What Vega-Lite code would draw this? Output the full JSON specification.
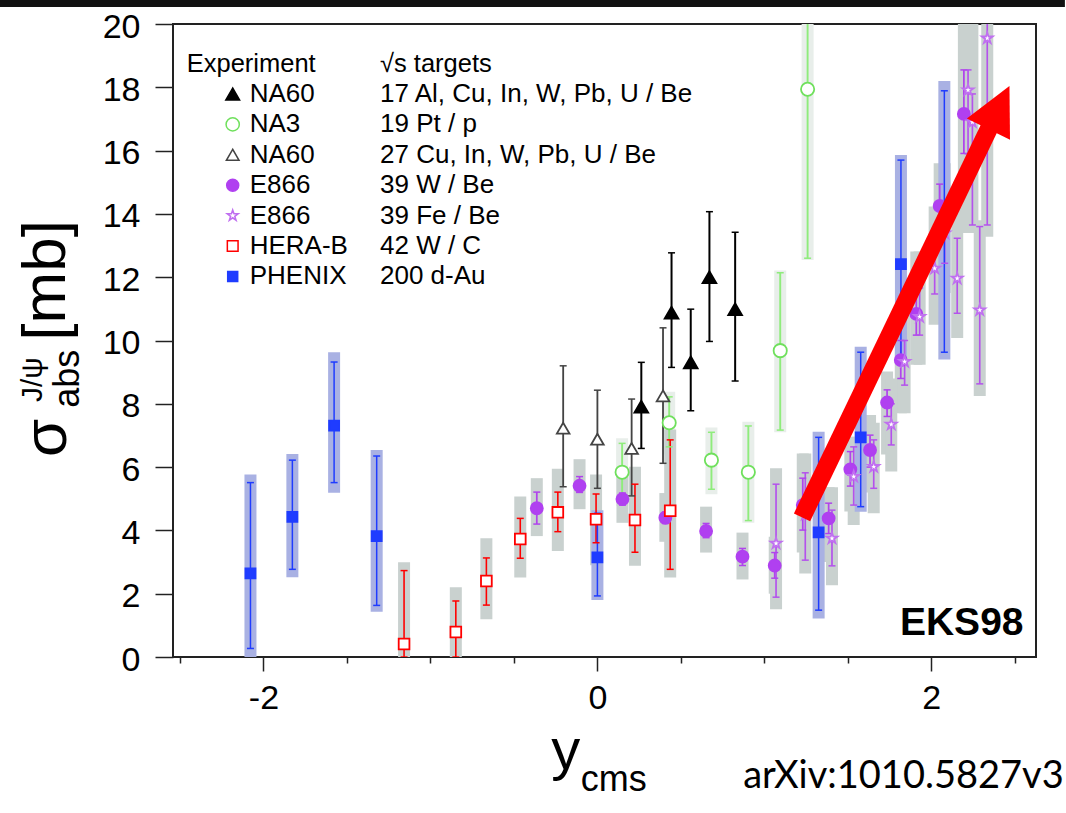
{
  "$schema": "https://vega.github.io/schema/vega-lite/v6.json",
  "width": 863,
  "height": 633,
  "autosize": {"type": "none"},
  "padding": {"left": 173, "top": 24, "right": 30, "bottom": 156},
  "background": "white",
  "config": {
    "view": {"stroke": "#222222", "strokeWidth": 2},
    "font": "Liberation Sans",
    "axis": {"labelFont": "Liberation Sans", "labelColor": "#000000", "labelFontSize": 34, "tickColor": "#222222", "tickWidth": 1.5, "domain": false, "grid": false, "title": null, "labelOverlap": false, "labelFlush": false},
    "legend": {"labelFont": "Liberation Sans", "labelFontSize": 26, "labelColor": "#000000", "titleFont": "Liberation Sans", "titleFontSize": 25.5, "titleFontWeight": "normal", "titleColor": "#000000", "labelLimit": 0, "titleLimit": 0, "rowPadding": 4.4, "titlePadding": 3.5, "padding": 0, "orient": "none", "symbolStrokeWidth": 1.5}
  },
  "datasets": {
    "pts": [
      {"s": "NA3|19 Pt / p", "x": 0.148, "y": 5.84, "lo": 4.99, "hi": 6.75, "blo": 4.77, "bhi": 6.91},
      {"s": "NA3|19 Pt / p", "x": 0.430, "y": 7.40, "lo": 6.64, "hi": 8.22, "blo": 6.40, "bhi": 8.38},
      {"s": "NA3|19 Pt / p", "x": 0.683, "y": 6.22, "lo": 5.30, "hi": 7.10, "blo": 5.14, "bhi": 7.25},
      {"s": "NA3|19 Pt / p", "x": 0.904, "y": 5.84, "lo": 4.31, "hi": 7.30, "blo": 4.24, "bhi": 7.43},
      {"s": "NA3|19 Pt / p", "x": 1.095, "y": 9.68, "lo": 7.17, "hi": 12.14, "blo": 7.10, "bhi": 12.21},
      {"s": "NA3|19 Pt / p", "x": 1.259, "y": 17.94, "lo": 12.60, "hi": 23.0, "blo": 12.54, "bhi": 23.5},
      {"s": "E866|39 W / Be", "x": -0.363, "y": 4.70, "lo": 4.20, "hi": 5.21, "blo": 3.82, "bhi": 5.65},
      {"s": "E866|39 W / Be", "x": -0.107, "y": 5.41, "lo": 5.20, "hi": 5.70, "blo": 4.67, "bhi": 6.25},
      {"s": "E866|39 W / Be", "x": 0.150, "y": 4.99, "lo": 4.80, "hi": 5.18, "blo": 4.24, "bhi": 5.75},
      {"s": "E866|39 W / Be", "x": 0.407, "y": 4.40, "lo": 4.22, "hi": 4.58, "blo": 3.64, "bhi": 5.18},
      {"s": "E866|39 W / Be", "x": 0.651, "y": 3.98, "lo": 3.77, "hi": 4.22, "blo": 3.30, "bhi": 4.75},
      {"s": "E866|39 W / Be", "x": 0.869, "y": 3.17, "lo": 2.89, "hi": 3.43, "blo": 2.45, "bhi": 3.93},
      {"s": "E866|39 W / Be", "x": 1.062, "y": 2.89, "lo": 2.49, "hi": 3.30, "blo": 2.00, "bhi": 3.80},
      {"s": "E866|39 W / Be", "x": 1.230, "y": 4.80, "lo": 4.01, "hi": 5.65, "blo": 3.30, "bhi": 6.43},
      {"s": "E866|39 W / Be", "x": 1.385, "y": 4.38, "lo": 3.90, "hi": 4.86, "blo": 3.00, "bhi": 5.36},
      {"s": "E866|39 W / Be", "x": 1.515, "y": 5.93, "lo": 5.40, "hi": 6.49, "blo": 4.60, "bhi": 6.96},
      {"s": "E866|39 W / Be", "x": 1.633, "y": 6.54, "lo": 6.00, "hi": 7.01, "blo": 5.20, "bhi": 7.65},
      {"s": "E866|39 W / Be", "x": 1.735, "y": 8.04, "lo": 7.60, "hi": 8.44, "blo": 6.40, "bhi": 9.02},
      {"s": "E866|39 W / Be", "x": 1.817, "y": 9.38, "lo": 8.80, "hi": 10.00, "blo": 7.70, "bhi": 10.60},
      {"s": "E866|39 W / Be", "x": 1.910, "y": 10.84, "lo": 10.17, "hi": 11.66, "blo": 9.23, "bhi": 12.81},
      {"s": "E866|39 W / Be", "x": 2.050, "y": 14.25, "lo": 13.60, "hi": 14.94, "blo": 12.00, "bhi": 15.60},
      {"s": "E866|39 W / Be", "x": 2.195, "y": 17.16, "lo": 15.91, "hi": 18.55, "blo": 13.40, "bhi": 21.0},
      {"s": "E866|39 Fe / Be", "x": 1.070, "y": 3.59, "lo": 1.89, "hi": 5.46, "blo": 1.51, "bhi": 5.96},
      {"s": "E866|39 Fe / Be", "x": 1.245, "y": 4.50, "lo": 3.06, "hi": 5.82, "blo": 2.64, "bhi": 6.43},
      {"s": "E866|39 Fe / Be", "x": 1.405, "y": 3.75, "lo": 2.88, "hi": 4.64, "blo": 2.27, "bhi": 5.36},
      {"s": "E866|39 Fe / Be", "x": 1.535, "y": 5.70, "lo": 4.80, "hi": 6.64, "blo": 4.17, "bhi": 6.96},
      {"s": "E866|39 Fe / Be", "x": 1.655, "y": 6.01, "lo": 5.33, "hi": 6.86, "blo": 4.54, "bhi": 7.40},
      {"s": "E866|39 Fe / Be", "x": 1.760, "y": 7.35, "lo": 6.70, "hi": 8.00, "blo": 5.86, "bhi": 8.80},
      {"s": "E866|39 Fe / Be", "x": 1.840, "y": 9.33, "lo": 8.59, "hi": 10.00, "blo": 7.70, "bhi": 10.80},
      {"s": "E866|39 Fe / Be", "x": 1.930, "y": 10.75, "lo": 10.17, "hi": 11.66, "blo": 9.23, "bhi": 12.81},
      {"s": "E866|39 Fe / Be", "x": 2.020, "y": 12.28, "lo": 11.47, "hi": 12.86, "blo": 10.50, "bhi": 14.23},
      {"s": "E866|39 Fe / Be", "x": 2.080, "y": 13.39, "lo": 12.44, "hi": 14.12, "blo": 11.50, "bhi": 15.60},
      {"s": "E866|39 Fe / Be", "x": 2.155, "y": 11.96, "lo": 10.86, "hi": 13.23, "blo": 10.08, "bhi": 14.19},
      {"s": "E866|39 Fe / Be", "x": 2.220, "y": 17.91, "lo": 15.90, "hi": 18.55, "blo": 13.40, "bhi": 21.0},
      {"s": "E866|39 Fe / Be", "x": 2.246, "y": 16.90, "lo": 13.65, "hi": 17.79, "blo": 13.40, "bhi": 21.0},
      {"s": "E866|39 Fe / Be", "x": 2.290, "y": 10.96, "lo": 8.63, "hi": 13.60, "blo": 8.25, "bhi": 13.80},
      {"s": "E866|39 Fe / Be", "x": 2.335, "y": 19.55, "lo": 13.65, "hi": 23.0, "blo": 13.28, "bhi": 23.5},
      {"s": "HERA-B|42 W / C", "x": -1.158, "y": 0.41, "lo": 0.0, "hi": 2.73, "blo": 0.0, "bhi": 2.99},
      {"s": "HERA-B|42 W / C", "x": -0.848, "y": 0.79, "lo": 0.0, "hi": 1.77, "blo": 0.0, "bhi": 2.20},
      {"s": "HERA-B|42 W / C", "x": -0.665, "y": 2.40, "lo": 1.64, "hi": 3.13, "blo": 1.19, "bhi": 3.75},
      {"s": "HERA-B|42 W / C", "x": -0.462, "y": 3.73, "lo": 3.12, "hi": 4.38, "blo": 2.51, "bhi": 5.07},
      {"s": "HERA-B|42 W / C", "x": -0.237, "y": 4.57, "lo": 3.96, "hi": 5.21, "blo": 3.35, "bhi": 5.95},
      {"s": "HERA-B|42 W / C", "x": -0.008, "y": 4.35, "lo": 3.61, "hi": 5.15, "blo": 2.90, "bhi": 5.77},
      {"s": "HERA-B|42 W / C", "x": 0.225, "y": 4.33, "lo": 3.31, "hi": 5.46, "blo": 2.88, "bhi": 6.01},
      {"s": "HERA-B|42 W / C", "x": 0.436, "y": 4.62, "lo": 2.77, "hi": 6.86, "blo": 2.51, "bhi": 7.19},
      {"s": "NA60|17 Al, Cu, In, W, Pb, U / Be", "x": 0.263, "y": 7.91, "lo": 6.59, "hi": 9.31},
      {"s": "NA60|17 Al, Cu, In, W, Pb, U / Be", "x": 0.444, "y": 10.88, "lo": 9.15, "hi": 12.77},
      {"s": "NA60|17 Al, Cu, In, W, Pb, U / Be", "x": 0.559, "y": 9.31, "lo": 7.78, "hi": 10.99},
      {"s": "NA60|17 Al, Cu, In, W, Pb, U / Be", "x": 0.671, "y": 12.00, "lo": 9.97, "hi": 14.07},
      {"s": "NA60|17 Al, Cu, In, W, Pb, U / Be", "x": 0.825, "y": 10.99, "lo": 8.72, "hi": 13.42},
      {"s": "NA60|27 Cu, In, W, Pb, U / Be", "x": -0.205, "y": 7.23, "lo": 5.38, "hi": 9.20},
      {"s": "NA60|27 Cu, In, W, Pb, U / Be", "x": 0.000, "y": 6.88, "lo": 5.33, "hi": 8.43},
      {"s": "NA60|27 Cu, In, W, Pb, U / Be", "x": 0.205, "y": 6.59, "lo": 5.09, "hi": 8.15},
      {"s": "NA60|27 Cu, In, W, Pb, U / Be", "x": 0.393, "y": 8.25, "lo": 6.12, "hi": 10.40},
      {"s": "PHENIX|200 d-Au", "x": -2.078, "y": 2.64, "lo": 0.27, "hi": 5.51, "blo": 0.0, "bhi": 5.77},
      {"s": "PHENIX|200 d-Au", "x": -1.827, "y": 4.43, "lo": 2.77, "hi": 6.22, "blo": 2.52, "bhi": 6.41},
      {"s": "PHENIX|200 d-Au", "x": -1.577, "y": 7.31, "lo": 5.51, "hi": 9.32, "blo": 5.19, "bhi": 9.63},
      {"s": "PHENIX|200 d-Au", "x": -1.322, "y": 3.82, "lo": 1.63, "hi": 6.35, "blo": 1.43, "bhi": 6.54},
      {"s": "PHENIX|200 d-Au", "x": 0.000, "y": 3.15, "lo": 1.93, "hi": 4.54, "blo": 1.80, "bhi": 4.64},
      {"s": "PHENIX|200 d-Au", "x": 1.325, "y": 3.94, "lo": 1.48, "hi": 6.94, "blo": 1.22, "bhi": 7.12},
      {"s": "PHENIX|200 d-Au", "x": 1.577, "y": 6.94, "lo": 4.75, "hi": 9.63, "blo": 4.59, "bhi": 9.80},
      {"s": "PHENIX|200 d-Au", "x": 1.818, "y": 12.41, "lo": 9.49, "hi": 15.70, "blo": 9.30, "bhi": 15.86},
      {"s": "PHENIX|200 d-Au", "x": 2.078, "y": 13.80, "lo": 9.63, "hi": 17.89, "blo": 9.40, "bhi": 18.20}
    ]
  },
  "data": {"name": "pts"},
  "layer": [
    {
      "transform": [{"filter": "isValid(datum.blo)"}],
      "mark": {"type": "bar", "size": 12, "orient": "vertical", "clip": true},
      "encoding": {
        "x": {"field": "x", "type": "quantitative", "scale": {"domain": [-2.512, 2.597], "nice": false, "zero": false},
          "axis": {"values": [-2.5, -2, -1.5, -1, -0.5, 0, 0.5, 1, 1.5, 2, 2.5], "labelExpr": "datum.value % 2 === 0 ? toString(datum.value) : ''", "tickSize": {"condition": {"test": "datum.value % 2 === 0", "value": 14}, "value": 6}, "labelPadding": 10}},
        "y": {"field": "blo", "type": "quantitative", "scale": {"domain": [0, 20], "nice": false, "zero": false},
          "axis": {"values": [0, 0.5, 1, 1.5, 2, 2.5, 3, 3.5, 4, 4.5, 5, 5.5, 6, 6.5, 7, 7.5, 8, 8.5, 9, 9.5, 10, 10.5, 11, 11.5, 12, 12.5, 13, 13.5, 14, 14.5, 15, 15.5, 16, 16.5, 17, 17.5, 18, 18.5, 19, 19.5, 20], "labelExpr": "datum.value % 2 === 0 ? toString(datum.value) : ''", "tickSize": {"condition": {"test": "datum.value % 2 === 0", "value": 18}, "value": 9}, "labelPadding": 15, "labelOffset": 3}},
        "y2": {"field": "bhi"},
        "color": {"field": "s", "type": "nominal", "legend": null,
          "scale": {"domain": ["NA60|17 Al, Cu, In, W, Pb, U / Be", "NA3|19 Pt / p", "NA60|27 Cu, In, W, Pb, U / Be", "E866|39 W / Be", "E866|39 Fe / Be", "HERA-B|42 W / C", "PHENIX|200 d-Au"],
            "range": ["#ffffff", "#e8eeea", "#ffffff", "#c9d1cf", "#c9d1cf", "#c9d1cf", "#a9b1e3"]}}
      }
    },
    {
      "mark": {"type": "rule", "clip": true},
      "encoding": {
        "x": {"field": "x", "type": "quantitative", "scale": {"domain": [-2.512, 2.597], "nice": false, "zero": false}},
        "y": {"field": "lo", "type": "quantitative", "scale": {"domain": [0, 20], "nice": false, "zero": false}},
        "y2": {"field": "hi"},
        "color": {"field": "s", "type": "nominal",
          "scale": {"domain": ["NA60|17 Al, Cu, In, W, Pb, U / Be", "NA3|19 Pt / p", "NA60|27 Cu, In, W, Pb, U / Be", "E866|39 W / Be", "E866|39 Fe / Be", "HERA-B|42 W / C", "PHENIX|200 d-Au"],
            "range": ["#000000", "#8fec7c", "#444444", "#b044ec", "#b452ec", "#ff0000", "#1f3cff"]},
          "legend": {"title": "√s targets", "legendX": 207, "legendY": 28, "labelOffset": -26, "symbolOpacity": 0, "symbolSize": 0, "symbolStrokeWidth": 0, "labelExpr": "split(datum.label, '|')[1]"}},
        "strokeWidth": {"field": "s", "type": "nominal", "legend": null,
          "scale": {"domain": ["NA60|17 Al, Cu, In, W, Pb, U / Be", "NA3|19 Pt / p", "NA60|27 Cu, In, W, Pb, U / Be", "E866|39 W / Be", "E866|39 Fe / Be", "HERA-B|42 W / C", "PHENIX|200 d-Au"],
            "range": [2, 1.5, 1.3, 1.5, 1.5, 2, 2]}}
      }
    },
    {
      "mark": {"type": "tick", "orient": "horizontal", "size": 7, "thickness": 1.5, "opacity": 1, "clip": true},
      "encoding": {
        "x": {"field": "x", "type": "quantitative", "scale": {"domain": [-2.512, 2.597], "nice": false, "zero": false}},
        "y": {"field": "hi", "type": "quantitative", "scale": {"domain": [0, 20], "nice": false, "zero": false}},
        "color": {"field": "s", "type": "nominal", "legend": null,
          "scale": {"domain": ["NA60|17 Al, Cu, In, W, Pb, U / Be", "NA3|19 Pt / p", "NA60|27 Cu, In, W, Pb, U / Be", "E866|39 W / Be", "E866|39 Fe / Be", "HERA-B|42 W / C", "PHENIX|200 d-Au"],
            "range": ["#000000", "#8fec7c", "#444444", "#b044ec", "#b452ec", "#ff0000", "#1f3cff"]}}
      }
    },
    {
      "mark": {"type": "tick", "orient": "horizontal", "size": 7, "thickness": 1.5, "opacity": 1, "clip": true},
      "encoding": {
        "x": {"field": "x", "type": "quantitative", "scale": {"domain": [-2.512, 2.597], "nice": false, "zero": false}},
        "y": {"field": "lo", "type": "quantitative", "scale": {"domain": [0, 20], "nice": false, "zero": false}},
        "color": {"field": "s", "type": "nominal", "legend": null,
          "scale": {"domain": ["NA60|17 Al, Cu, In, W, Pb, U / Be", "NA3|19 Pt / p", "NA60|27 Cu, In, W, Pb, U / Be", "E866|39 W / Be", "E866|39 Fe / Be", "HERA-B|42 W / C", "PHENIX|200 d-Au"],
            "range": ["#000000", "#8fec7c", "#444444", "#b044ec", "#b452ec", "#ff0000", "#1f3cff"]}}
      }
    },
    {
      "mark": {"type": "point", "opacity": 1, "strokeWidth": 1.8, "clip": true},
      "encoding": {
        "x": {"field": "x", "type": "quantitative", "scale": {"domain": [-2.512, 2.597], "nice": false, "zero": false}},
        "y": {"field": "y", "type": "quantitative", "scale": {"domain": [0, 20], "nice": false, "zero": false}},
        "shape": {"field": "s", "type": "nominal",
          "scale": {"domain": ["NA60|17 Al, Cu, In, W, Pb, U / Be", "NA3|19 Pt / p", "NA60|27 Cu, In, W, Pb, U / Be", "E866|39 W / Be", "E866|39 Fe / Be", "HERA-B|42 W / C", "PHENIX|200 d-Au"],
            "range": ["triangle-up", "circle", "triangle-up", "circle", "M0,-1L0.225,-0.309L0.951,-0.309L0.363,0.118L0.588,0.809L0,0.382L-0.588,0.809L-0.363,0.118L-0.951,-0.309L-0.225,-0.309Z", "square", "square"]},
          "legend": {"title": "Experiment", "legendX": 13.7, "legendY": 28, "symbolOffset": 33, "labelOffset": 4, "labelExpr": "split(datum.label, '|')[0]"}},
        "fill": {"field": "s", "type": "nominal",
          "scale": {"domain": ["NA60|17 Al, Cu, In, W, Pb, U / Be", "NA3|19 Pt / p", "NA60|27 Cu, In, W, Pb, U / Be", "E866|39 W / Be", "E866|39 Fe / Be", "HERA-B|42 W / C", "PHENIX|200 d-Au"],
            "range": ["#000000", "#ffffff", "#ffffff", "#b040f0", "#ffffff", "#ffffff", "#1f3cff"]},
          "legend": {"title": "Experiment", "legendX": 13.7, "legendY": 28, "symbolOffset": 33, "labelOffset": 4, "labelExpr": "split(datum.label, '|')[0]"}},
        "stroke": {"field": "s", "type": "nominal",
          "scale": {"domain": ["NA60|17 Al, Cu, In, W, Pb, U / Be", "NA3|19 Pt / p", "NA60|27 Cu, In, W, Pb, U / Be", "E866|39 W / Be", "E866|39 Fe / Be", "HERA-B|42 W / C", "PHENIX|200 d-Au"],
            "range": ["#000000", "#6fe05c", "#444444", "#b040f0", "#c070f0", "#ff0000", "#1f3cff"]},
          "legend": {"title": "Experiment", "legendX": 13.7, "legendY": 28, "symbolOffset": 33, "labelOffset": 4, "labelExpr": "split(datum.label, '|')[0]"}},
        "size": {"field": "s", "type": "nominal",
          "scale": {"domain": ["NA60|17 Al, Cu, In, W, Pb, U / Be", "NA3|19 Pt / p", "NA60|27 Cu, In, W, Pb, U / Be", "E866|39 W / Be", "E866|39 Fe / Be", "HERA-B|42 W / C", "PHENIX|200 d-Au"],
            "range": [190, 100, 190, 110, 150, 115, 100]},
          "legend": {"title": "Experiment", "legendX": 13.7, "legendY": 28, "symbolOffset": 33, "labelOffset": 4, "labelExpr": "split(datum.label, '|')[0]"}}
      }
    },
    {
      "data": {"values": [{}]},
      "mark": {"type": "rect", "color": "#111111"},
      "encoding": {
        "x": {"datum": -3.6, "type": "quantitative"}, "x2": {"datum": 2.8},
        "y": {"datum": 20.54, "type": "quantitative"}, "y2": {"datum": 21.3}
      }
    },
    {
      "data": {"values": [{}]},
      "mark": {"type": "text", "angle": 270, "align": "left", "baseline": "alphabetic", "fontSize": 62, "font": "Liberation Sans", "color": "#000000"},
      "encoding": {"x": {"datum": -3.1824, "type": "quantitative"}, "y": {"datum": 6.319, "type": "quantitative"}, "text": {"value": "σ"}}
    },
    {
      "data": {"values": [{}]},
      "mark": {"type": "text", "angle": 270, "align": "left", "baseline": "alphabetic", "fontSize": 30, "font": "Liberation Sans", "color": "#000000"},
      "encoding": {"x": {"datum": -3.329, "type": "quantitative"}, "y": {"datum": 8.057, "type": "quantitative"}, "text": {"value": "J/ψ"}}
    },
    {
      "data": {"values": [{}]},
      "mark": {"type": "text", "angle": 270, "align": "left", "baseline": "alphabetic", "fontSize": 36, "font": "Liberation Sans", "color": "#000000"},
      "encoding": {"x": {"datum": -3.1024, "type": "quantitative"}, "y": {"datum": 7.877, "type": "quantitative"}, "text": {"value": "abs"}}
    },
    {
      "data": {"values": [{}]},
      "mark": {"type": "text", "angle": 270, "align": "left", "baseline": "alphabetic", "fontSize": 62, "font": "Liberation Sans", "color": "#000000"},
      "encoding": {"x": {"datum": -3.1895, "type": "quantitative"}, "y": {"datum": 9.994, "type": "quantitative"}, "text": {"value": "[mb]"}}
    },
    {
      "data": {"values": [{}]},
      "mark": {"type": "text", "align": "left", "baseline": "alphabetic", "fontSize": 58, "font": "Liberation Sans", "color": "#000000"},
      "encoding": {"x": {"datum": -0.2771, "type": "quantitative"}, "y": {"datum": -3.532, "type": "quantitative"}, "text": {"value": "y"}}
    },
    {
      "data": {"values": [{}]},
      "mark": {"type": "text", "align": "left", "baseline": "alphabetic", "fontSize": 36, "font": "Liberation Sans", "color": "#000000"},
      "encoding": {"x": {"datum": -0.0995, "type": "quantitative"}, "y": {"datum": -4.234, "type": "quantitative"}, "text": {"value": "cms"}}
    },
    {
      "data": {"values": [{}]},
      "mark": {"type": "text", "align": "left", "baseline": "alphabetic", "fontSize": 38, "font": "Lato", "color": "#000000"},
      "encoding": {"x": {"datum": 0.873, "type": "quantitative"}, "y": {"datum": -4.139, "type": "quantitative"}, "text": {"value": "arXiv:1010.5827v3"}}
    },
    {
      "data": {"values": [{}]},
      "mark": {"type": "text", "align": "left", "baseline": "alphabetic", "fontSize": 39, "fontWeight": "bold", "font": "Liberation Sans", "color": "#000000"},
      "encoding": {"x": {"datum": 1.812, "type": "quantitative"}, "y": {"datum": 0.695, "type": "quantitative"}, "text": {"value": "EKS98"}}
    },
    {
      "data": {"values": [{}]},
      "mark": {"type": "rule", "color": "#ff0000", "strokeWidth": 18, "strokeCap": "butt"},
      "encoding": {"x": {"datum": 1.2256, "type": "quantitative"}, "y": {"datum": 4.412, "type": "quantitative"}, "x2": {"datum": 2.35}, "y2": {"datum": 16.75}}
    },
    {
      "data": {"values": [{}]},
      "mark": {"type": "point", "shape": "M0,-1L1,1L-1,1Z", "size": 2304, "angle": 26, "filled": true, "color": "#ff0000", "opacity": 1, "strokeWidth": 0},
      "encoding": {"x": {"datum": 2.405, "type": "quantitative"}, "y": {"datum": 17.36, "type": "quantitative"}}
    }
  ],
  "resolve": {"scale": {"color": "independent", "fill": "independent", "stroke": "independent", "shape": "independent", "size": "independent", "strokeWidth": "independent"}}
}
